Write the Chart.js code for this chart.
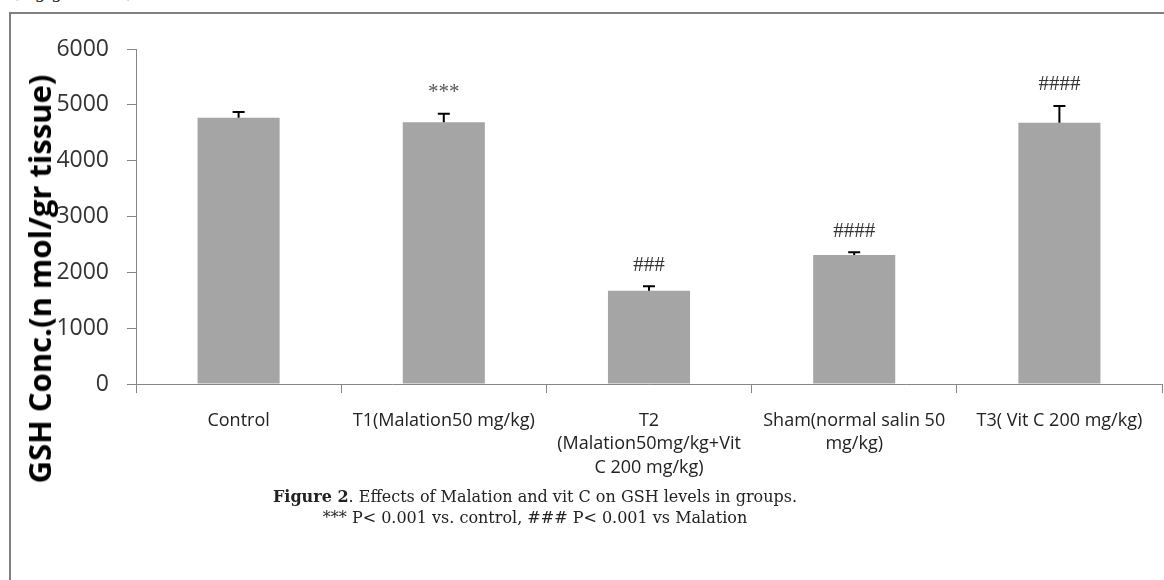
<!DOCTYPE html>
<html>
<head>
<meta charset="utf-8">
<script src="https://cdn.jsdelivr.net/npm/chart.js@4.4.1/dist/chart.umd.min.js"></script>
<style>
  body { margin: 0; background: #fff; width: 1164px; height: 580px; overflow: hidden; position: relative; }
  #frame { position: absolute; left: 9px; top: 12px; width: 1160px; height: 580px;
           border-top: 2px solid #808080; border-left: 2px solid #808080; }
  #wrap { position: absolute; left: 0; top: 0; width: 1164px; height: 504px; }
  #topnote { position: absolute; left: 12px; top: -18px; font: 17px "DejaVu Serif", serif; color: #222; }
  #ytitle { position: absolute; left: 39px; top: 279px; white-space: nowrap;
            transform: translate(-50%, -50%) rotate(-90deg);
            font: 700 31px "Open Sans", sans-serif; color: #000; }
  #caption { position: absolute; left: 535px; top: 486px; transform: translateX(-50%);
             text-align: center; white-space: nowrap;
             font: 16px "DejaVu Serif", serif; line-height: 21px; color: #222; }
</style>
</head>
<body>
<div id="frame"></div>
<div id="topnote">(mg/gr tissue)</div>
<div id="wrap"><canvas id="gshChart"></canvas></div>
<div id="ytitle">GSH Conc.(n mol/gr tissue)</div>
<div id="caption"><b>Figure 2</b>. Effects of Malation and vit C on GSH levels in groups.<br>*** P&lt; 0.001 vs. control, ### P&lt; 0.001 vs Malation</div>

<script>
// datos
const grupos = ['Control', 'T1(Malation50 mg/kg)', ['T2', '(Malation50mg/kg+Vit', 'C 200 mg/kg)'],
                ['Sham(normal salin 50', 'mg/kg)'], 'T3( Vit C 200 mg/kg)'];
const gshValores = [4770, 4690, 1670, 2310, 4680];
const gshErrores = [100, 150, 80, 50, 300];
const marcas = ['', '***', '###', '####', '####'];
const yTicks = [0, 1000, 2000, 3000, 4000, 5000, 6000];

// barras de error (solo hacia arriba) y marcas de significancia
const errorBarsPlugin = {
    id: 'errorBars',
    afterDatasetsDraw(chart) {
        const ctx = chart.ctx;
        const y = chart.scales.y;
        const meta = chart.getDatasetMeta(0);
        ctx.save();
        meta.data.forEach((bar, i) => {
            const top = y.getPixelForValue(gshValores[i] + gshErrores[i]);
            ctx.strokeStyle = '#000';
            ctx.lineWidth = 2;
            ctx.beginPath();
            ctx.moveTo(bar.x, bar.y);
            ctx.lineTo(bar.x, top);
            ctx.moveTo(bar.x - 6, top);
            ctx.lineTo(bar.x + 6, top);
            ctx.stroke();
            if (marcas[i]) {
                ctx.fillStyle = i === 1 ? '#555' : '#333';
                ctx.font = '21px "Liberation Serif", serif';
                ctx.textAlign = 'center';
                ctx.textBaseline = 'middle';
                ctx.fillText(marcas[i], bar.x, top - 21);
            }
        });
        ctx.restore();
    }
};

function inicializarGrafico() {
    const canvas = document.getElementById('gshChart');
    if (!canvas) return;

    new Chart(canvas, {
        type: 'bar',
        data: {
            labels: grupos,
            datasets: [{
                data: gshValores,
                backgroundColor: '#a5a5a5',
                borderWidth: 0,
                barPercentage: 0.4,
                categoryPercentage: 1.0
            }]
        },
        options: {
            responsive: true,
            maintainAspectRatio: false,
            animation: false,
            layout: { padding: { top: 49, right: 2, left: 0, bottom: 0 } },
            plugins: { legend: { display: false }, tooltip: { enabled: false } },
            scales: {
                y: {
                    min: 0,
                    max: 6000,
                    afterFit: (scale) => { scale.width = 136; },
                    afterBuildTicks: (scale) => { scale.ticks = yTicks.map(v => ({ value: v })); },
                    border: { color: '#868686', width: 1 },
                    grid: { drawOnChartArea: false, drawTicks: true, tickLength: 9, color: '#868686' },
                    ticks: {
                        padding: 18,
                        color: '#333',
                        callback: (v) => String(v),
                        font: { family: '"Open Sans", sans-serif', size: 23 }
                    }
                },
                x: {
                    afterFit: (scale) => { scale.height = 120; },
                    border: { color: '#868686', width: 1 },
                    grid: { drawOnChartArea: false, drawTicks: true, tickLength: 9, color: '#868686' },
                    ticks: {
                        padding: 16,
                        maxRotation: 0,
                        autoSkip: false,
                        color: '#222',
                        font: { family: '"Open Sans", sans-serif', size: 18, lineHeight: 1.3 }
                    }
                }
            }
        },
        plugins: [errorBarsPlugin]
    });
}

document.addEventListener('DOMContentLoaded', function() {
    inicializarGrafico();
});
</script>
</body>
</html>
